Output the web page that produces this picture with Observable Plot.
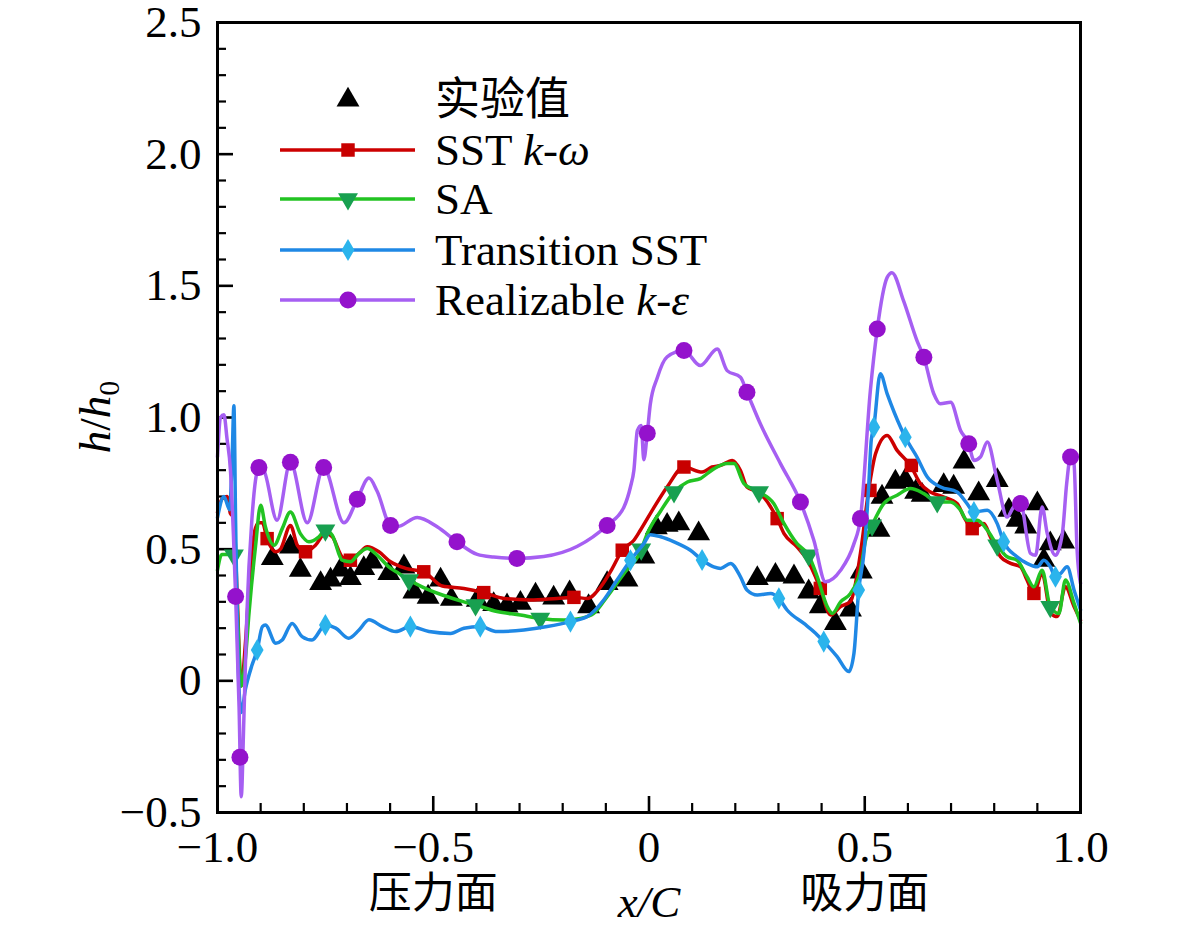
<!DOCTYPE html>
<html><head><meta charset="utf-8">
<script src="https://cdn.jsdelivr.net/npm/d3@7"></script>
<script src="https://cdn.jsdelivr.net/npm/@observablehq/plot@0.6"></script>
<style>body{margin:0;background:#fff}#chart{width:1181px;height:940px}</style>
</head><body><div id="chart"></div>
<script>
// ---- data ----
const xTicks = [-1, -0.5, 0, 0.5, 1];
const xMinorTicks = [-0.9,-0.8,-0.7,-0.6,-0.4,-0.3,-0.2,-0.1,0.1,0.2,0.3,0.4,0.6,0.7,0.8,0.9];
const yTicks = [-0.5, 0, 0.5, 1, 1.5, 2, 2.5];
const yMinorTicks = [-0.4,-0.3,-0.2,-0.1,0.1,0.2,0.3,0.4,0.6,0.7,0.8,0.9,1.1,1.2,1.3,1.4,1.6,1.7,1.8,1.9,2.1,2.2,2.3,2.4];
const sideLabels = ["压力面", "吸力面"];
const sidePositions = [-0.5, 0.5];
const legendLabels = [
  [["实验值", false]],
  [["SST ", false], ["k", true], ["-", false], ["ω", true]],
  [["SA", false]],
  [["Transition SST", false]],
  [["Realizable ", false], ["k", true], ["-", false], ["ε", true]]
];

const expData = [[-0.873,0.465],[-0.831,0.509],[-0.808,0.42],[-0.761,0.37],[-0.738,0.383],[-0.715,0.421],[-0.692,0.389],[-0.661,0.427],[-0.642,0.452],[-0.603,0.408],[-0.568,0.433],[-0.545,0.338],[-0.512,0.318],[-0.483,0.383],[-0.458,0.31],[-0.398,0.306],[-0.36,0.29],[-0.329,0.285],[-0.298,0.295],[-0.263,0.326],[-0.221,0.315],[-0.184,0.335],[-0.14,0.282],[-0.097,0.37],[-0.051,0.383],[-0.012,0.471],[0.017,0.582],[0.042,0.591],[0.069,0.597],[0.115,0.559],[0.251,0.389],[0.293,0.401],[0.336,0.395],[0.37,0.338],[0.397,0.282],[0.432,0.218],[0.467,0.269],[0.492,0.414],[0.533,0.572],[0.54,0.698],[0.571,0.755],[0.594,0.761],[0.618,0.717],[0.633,0.705],[0.683,0.742],[0.706,0.736],[0.73,0.831],[0.764,0.711],[0.807,0.761],[0.834,0.648],[0.853,0.61],[0.873,0.585],[0.9,0.673],[0.915,0.458],[0.93,0.521],[0.961,0.528]];

const sstLine = [[-1.0,0.64],[-0.99,0.69],[-0.978,0.70],[-0.970,0.635],[-0.962,0.62],[-0.955,0.35],[-0.945,-0.02],[-0.935,0.15],[-0.925,0.40],[-0.912,0.58],[-0.904,0.60],[-0.896,0.60],[-0.885,0.54],[-0.865,0.49],[-0.854,0.50],[-0.831,0.59],[-0.815,0.515],[-0.796,0.49],[-0.773,0.515],[-0.750,0.56],[-0.734,0.547],[-0.711,0.471],[-0.692,0.458],[-0.672,0.484],[-0.653,0.509],[-0.626,0.49],[-0.599,0.452],[-0.564,0.427],[-0.522,0.414],[-0.479,0.36],[-0.429,0.351],[-0.383,0.335],[-0.336,0.313],[-0.275,0.307],[-0.213,0.313],[-0.174,0.317],[-0.143,0.313],[-0.112,0.357],[-0.085,0.427],[-0.062,0.496],[-0.035,0.534],[-0.020,0.572],[0.003,0.635],[0.042,0.736],[0.081,0.812],[0.123,0.793],[0.146,0.812],[0.166,0.818],[0.193,0.837],[0.212,0.799],[0.227,0.736],[0.258,0.711],[0.297,0.616],[0.313,0.559],[0.343,0.509],[0.367,0.459],[0.397,0.351],[0.421,0.250],[0.444,0.282],[0.467,0.301],[0.490,0.484],[0.509,0.723],[0.525,0.862],[0.552,0.932],[0.575,0.875],[0.606,0.818],[0.629,0.749],[0.652,0.717],[0.683,0.698],[0.714,0.673],[0.730,0.622],[0.749,0.578],[0.776,0.597],[0.791,0.547],[0.815,0.471],[0.838,0.446],[0.861,0.433],[0.876,0.383],[0.892,0.332],[0.911,0.408],[0.931,0.256],[0.946,0.244],[0.965,0.357],[0.985,0.282],[1.0,0.23]];
const sstMarks = [[-0.885,0.54],[-0.796,0.49],[-0.692,0.458],[-0.522,0.414],[-0.383,0.335],[-0.174,0.317],[-0.062,0.496],[0.081,0.812],[0.297,0.616],[0.397,0.351],[0.512,0.723],[0.608,0.818],[0.749,0.578],[0.892,0.332]];

const saLine = [[-1.0,0.42],[-0.99,0.48],[-0.975,0.48],[-0.962,0.477],[-0.955,0.30],[-0.945,-0.02],[-0.935,0.09],[-0.927,0.256],[-0.912,0.509],[-0.900,0.667],[-0.889,0.585],[-0.869,0.515],[-0.850,0.578],[-0.831,0.641],[-0.808,0.559],[-0.788,0.528],[-0.765,0.547],[-0.750,0.572],[-0.734,0.553],[-0.711,0.458],[-0.692,0.452],[-0.672,0.484],[-0.653,0.503],[-0.630,0.477],[-0.603,0.433],[-0.580,0.408],[-0.556,0.383],[-0.526,0.357],[-0.479,0.326],[-0.429,0.30],[-0.402,0.288],[-0.352,0.263],[-0.298,0.250],[-0.252,0.237],[-0.197,0.231],[-0.159,0.237],[-0.128,0.256],[-0.097,0.32],[-0.058,0.408],[-0.020,0.490],[-0.004,0.559],[0.027,0.645],[0.058,0.717],[0.089,0.755],[0.119,0.768],[0.150,0.805],[0.181,0.825],[0.197,0.825],[0.220,0.749],[0.255,0.717],[0.289,0.673],[0.313,0.597],[0.343,0.521],[0.370,0.477],[0.390,0.395],[0.413,0.282],[0.425,0.256],[0.444,0.300],[0.467,0.332],[0.490,0.420],[0.502,0.534],[0.517,0.591],[0.544,0.673],[0.575,0.705],[0.606,0.730],[0.637,0.711],[0.668,0.679],[0.699,0.679],[0.722,0.648],[0.737,0.610],[0.761,0.610],[0.784,0.572],[0.807,0.515],[0.830,0.471],[0.853,0.458],[0.876,0.395],[0.892,0.357],[0.911,0.420],[0.930,0.281],[0.950,0.256],[0.965,0.383],[0.985,0.294],[1.0,0.22]];
const saMarks = [[-0.962,0.477],[-0.750,0.572],[-0.556,0.383],[-0.402,0.288],[-0.252,0.237],[-0.018,0.50],[0.058,0.717],[0.255,0.717],[0.370,0.477],[0.517,0.591],[0.668,0.679],[0.807,0.515],[0.930,0.281]];

const transLine = [[-1.0,0.62],[-0.985,0.70],[-0.972,0.65],[-0.966,0.85],[-0.962,1.045],[-0.958,0.60],[-0.952,0.05],[-0.945,-0.12],[-0.935,-0.03],[-0.92,0.06],[-0.908,0.117],[-0.896,0.206],[-0.889,0.212],[-0.865,0.143],[-0.850,0.155],[-0.827,0.218],[-0.804,0.168],[-0.781,0.155],[-0.750,0.212],[-0.726,0.200],[-0.696,0.162],[-0.672,0.193],[-0.649,0.232],[-0.618,0.206],[-0.587,0.187],[-0.553,0.206],[-0.510,0.187],[-0.460,0.180],[-0.429,0.200],[-0.391,0.206],[-0.352,0.187],[-0.290,0.193],[-0.236,0.206],[-0.182,0.225],[-0.143,0.244],[-0.105,0.307],[-0.074,0.383],[-0.043,0.458],[-0.012,0.521],[0.003,0.555],[0.027,0.547],[0.058,0.528],[0.096,0.496],[0.123,0.459],[0.150,0.433],[0.166,0.427],[0.189,0.446],[0.212,0.395],[0.227,0.345],[0.251,0.326],[0.282,0.332],[0.301,0.313],[0.320,0.269],[0.359,0.218],[0.386,0.181],[0.405,0.149],[0.436,0.092],[0.463,0.035],[0.475,0.105],[0.486,0.345],[0.498,0.484],[0.509,0.736],[0.515,0.913],[0.521,0.963],[0.536,1.166],[0.552,1.09],[0.583,0.963],[0.594,0.925],[0.621,0.850],[0.645,0.774],[0.676,0.736],[0.714,0.717],[0.737,0.673],[0.753,0.641],[0.784,0.648],[0.807,0.597],[0.822,0.528],[0.853,0.471],[0.876,0.446],[0.900,0.433],[0.915,0.458],[0.930,0.433],[0.942,0.395],[0.954,0.408],[0.969,0.433],[0.985,0.345],[1.0,0.27]];
const transMarks = [[-0.908,0.117],[-0.750,0.212],[-0.553,0.206],[-0.391,0.206],[-0.182,0.225],[-0.043,0.458],[0.123,0.459],[0.301,0.313],[0.405,0.149],[0.486,0.345],[0.521,0.963],[0.594,0.925],[0.753,0.641],[0.822,0.528],[0.942,0.395]];

const realLine = [[-1.0,0.85],[-0.993,1.0],[-0.985,1.01],[-0.978,0.92],[-0.970,0.80],[-0.963,0.55],[-0.958,0.32],[-0.950,-0.1],[-0.945,-0.44],[-0.939,-0.15],[-0.932,0.25],[-0.920,0.62],[-0.904,0.81],[-0.893,0.80],[-0.862,0.61],[-0.831,0.83],[-0.792,0.60],[-0.754,0.81],[-0.707,0.60],[-0.676,0.69],[-0.649,0.77],[-0.630,0.72],[-0.599,0.59],[-0.584,0.585],[-0.537,0.62],[-0.491,0.585],[-0.445,0.528],[-0.398,0.48],[-0.360,0.47],[-0.306,0.465],[-0.244,0.472],[-0.167,0.51],[-0.097,0.591],[-0.058,0.66],[-0.043,0.736],[-0.035,0.80],[-0.027,0.95],[-0.018,0.97],[-0.012,0.84],[-0.004,0.94],[0.003,1.05],[0.019,1.15],[0.042,1.23],[0.081,1.254],[0.119,1.197],[0.158,1.26],[0.181,1.178],[0.212,1.153],[0.227,1.096],[0.258,0.976],[0.305,0.824],[0.351,0.679],[0.382,0.534],[0.409,0.376],[0.444,0.42],[0.475,0.521],[0.490,0.616],[0.513,1.102],[0.529,1.336],[0.552,1.532],[0.563,1.55],[0.590,1.443],[0.621,1.292],[0.637,1.229],[0.660,1.090],[0.675,1.052],[0.699,1.058],[0.722,0.951],[0.741,0.900],[0.753,0.837],[0.768,0.850],[0.784,0.907],[0.807,0.761],[0.830,0.622],[0.845,0.66],[0.861,0.673],[0.884,0.484],[0.896,0.477],[0.911,0.660],[0.923,0.559],[0.942,0.477],[0.958,0.560],[0.968,0.75],[0.977,0.850],[0.985,0.824],[0.992,0.50],[1.0,0.37]];
const realMarks = [[-0.958,0.32],[-0.948,-0.29],[-0.904,0.81],[-0.831,0.83],[-0.754,0.81],[-0.676,0.69],[-0.599,0.59],[-0.445,0.528],[-0.306,0.465],[-0.097,0.59],[-0.004,0.94],[0.081,1.254],[0.227,1.096],[0.351,0.679],[0.490,0.616],[0.529,1.336],[0.637,1.229],[0.741,0.90],[0.861,0.673],[0.977,0.85]];

// ---- styles ----
const FONT = "'Liberation Serif','Times New Roman','Noto Sans CJK SC',serif";
const FS = 45;
const W = 1181, H = 940, mL = 217, mR = 101, mT = 22, mB = 128;
const plotW = W - mL - mR, plotH = H - mT - mB;
const invTriangle = {
  draw(ctx, size) {
    const s3 = Math.sqrt(3);
    const y = -Math.sqrt(size / (s3 * 3));
    ctx.moveTo(0, -y * 2);
    ctx.lineTo(-s3 * y, y);
    ctx.lineTo(s3 * y, y);
    ctx.closePath();
  }
};
const series = [
  {line: sstLine, marks: sstMarks, stroke: "#cc0000", fill: "#c80000", symbol: "square", r: 7.6},
  {line: saLine, marks: saMarks, stroke: "#22c322", fill: "#18a050", symbol: invTriangle, r: 7.4},
  {line: transLine, marks: transMarks, stroke: "#1f88e5", fill: "#2bb4ec", symbol: "diamond", r: 6.7},
  {line: realLine, marks: realMarks, stroke: "#a65ff2", fill: "#9412cc", symbol: "circle", r: 8.5}
];
const toObj = a => a.map(([x, y]) => ({x, y}));
const fmt = d => d === 0 ? "0" : d.toFixed(1).replace("-", "\u2212");

const marks = [
  Plot.axisX(xTicks, {tickSize: 0, tickPadding: 18, tickFormat: fmt, label: null, fontSize: FS}),
  Plot.axisY(yTicks, {tickSize: 0, tickPadding: 16, tickFormat: fmt, label: null, fontSize: FS}),
  Plot.ruleX(xTicks, {x: d => d, insetTop: plotH - 16, strokeWidth: 2.6}),
  Plot.ruleX(xMinorTicks, {x: d => d, insetTop: plotH - 9, strokeWidth: 2.2}),
  Plot.ruleY(yTicks, {y: d => d, insetRight: plotW - 16, strokeWidth: 2.6}),
  Plot.ruleY(yMinorTicks, {y: d => d, insetRight: plotW - 9, strokeWidth: 2.2}),
  Plot.dot(toObj(expData), {x: "x", y: "y", symbol: "triangle", r: 8.5, fill: "#000"})
];
for (const s of series) {
  marks.push(Plot.line(toObj(s.line), {x: "x", y: "y", stroke: s.stroke, strokeWidth: 3.5, curve: "monotone-x"}));
  marks.push(Plot.dot(toObj(s.marks), {x: "x", y: "y", symbol: s.symbol, r: s.r, fill: s.fill}));
}
marks.push(Plot.frame({strokeWidth: 3}));
marks.push(Plot.text(sideLabels.map((t, i) => ({t, x: sidePositions[i]})), {x: "x", text: "t", frameAnchor: "bottom", dy: 95, fontSize: 43}));
marks.push(Plot.text(["x/C"], {text: d => d, frameAnchor: "bottom", dy: 104, fontSize: FS, fontStyle: "italic"}));

const chart = Plot.plot({
  width: W, height: H,
  marginLeft: mL, marginRight: mR, marginTop: mT, marginBottom: mB,
  x: {domain: [-1, 1]},
  y: {domain: [-0.5, 2.5]},
  style: {fontFamily: FONT, fontSize: FS + "px", color: "#000", background: "#fff"},
  marks
});
document.getElementById("chart").appendChild(chart);

// y-axis title with subscript
const svg = d3.select(chart);
const yl = svg.append("text")
  .attr("transform", `translate(${mL - 122},${mT + plotH / 2}) rotate(-90)`)
  .attr("text-anchor", "middle").attr("dy", "0.33em")
  .attr("font-family", FONT).attr("font-size", FS).attr("fill", "#000");
yl.append("tspan").attr("font-style", "italic").text("h");
yl.append("tspan").text("/");
yl.append("tspan").attr("font-style", "italic").text("h");
yl.append("tspan").attr("font-size", 30).attr("dy", "0.3em").text("0");

// legend
const rows = [100, 150, 199, 250, 300];
const lg = svg.append("g").attr("font-family", FONT).attr("font-size", FS).attr("fill", "#000").attr("text-anchor", "start");
const legendSym = [
  {symbol: d3.symbolTriangle, r: 8.5, fill: "#000", stroke: null},
  {symbol: d3.symbolSquare, r: 7.6, fill: series[0].fill, stroke: series[0].stroke},
  {symbol: invTriangle, r: 7.4, fill: series[1].fill, stroke: series[1].stroke},
  {symbol: d3.symbolDiamond, r: 6.7, fill: series[2].fill, stroke: series[2].stroke},
  {symbol: d3.symbolCircle, r: 8.5, fill: series[3].fill, stroke: series[3].stroke}
];
legendLabels.forEach((parts, i) => {
  const y = rows[i], ls = legendSym[i];
  if (ls.stroke) lg.append("line").attr("x1", 280).attr("x2", 415).attr("y1", y).attr("y2", y)
    .attr("stroke", ls.stroke).attr("stroke-width", 3.5);
  lg.append("path").attr("transform", `translate(348,${y})`)
    .attr("d", d3.symbol(ls.symbol, Math.PI * ls.r * ls.r)()).attr("fill", ls.fill);
  const t = lg.append("text").attr("x", 435).attr("y", y).attr("dy", "0.34em").attr("text-anchor", "start");
  parts.forEach(([s, it]) => t.append("tspan").attr("font-style", it ? "italic" : "normal").text(s));
});
</script>
</body></html>
